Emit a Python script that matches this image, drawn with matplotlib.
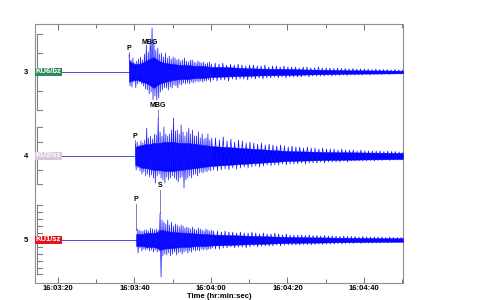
import matplotlib
matplotlib.use("Agg")
import matplotlib.pyplot as plt
import matplotlib.transforms as mtransforms
from matplotlib.patches import Rectangle
import numpy as np

plt.rcParams['font.family'] = ['Liberation Sans', 'DejaVu Sans']

# time in seconds after 16:03:00, amplitudes in display units (trace spacing = 84)
stations = ['KU6/bz', 'KU2/sz', 'KU1/sz']
trace_ids = [3, 4, 5]
station_colors = ['#2e8b5a', '#d9c6dc', '#e3151c']

# phase picks (seconds)
picks = [
    [('P', 38.6), ('MBG', 44.1)],
    [('P', 40.2), ('MBG', 46.2)],
    [('P', 40.4), ('S', 46.7)],
]

# smooth core of each record: time, upper, lower
env_t = [
    [38.6, 39, 40, 41, 42, 43, 44, 45, 46, 47, 48, 50, 52, 54, 56, 58, 60, 64, 68, 72, 76, 80, 85, 90, 95, 100, 105, 110.2],
    [40.2, 41, 42, 43, 44, 45, 46, 48, 50, 52, 54, 56, 58, 60, 64, 68, 72, 76, 80, 85, 90, 95, 100, 105, 110.2],
    [40.4, 41, 42, 43, 44, 45, 46, 46.7, 47.5, 48, 50, 52, 54, 56, 58, 60, 64, 68, 72, 76, 80, 85, 90, 95, 100, 105, 110.2],
]
env_up = [
    [12, 10, 8, 8, 9, 11, 13, 15, 12, 10, 9, 8, 7, 7, 6, 6, 5, 5, 4, 3.5, 3.2, 3, 2.5, 2.2, 1.8, 1.6, 1.5, 1.3],
    [9, 10, 11, 12, 12, 13, 13, 14, 14, 13, 13, 12, 11, 10, 9, 8, 7, 6, 5, 4.5, 4, 3.8, 3.5, 3.3, 3],
    [6, 6, 6, 7, 7, 7, 8, 10, 10, 9, 8, 7.5, 7, 6.5, 6, 5.5, 5, 4.5, 4, 3.5, 3, 2.7, 2.5, 2.2, 2, 1.8, 1.8],
]
env_dn = [
    [10, 9, 8, 8, 10, 11, 13, 16, 13, 11, 10, 8, 7, 7, 6, 6, 5, 4.5, 4, 3.5, 3.2, 3, 2.5, 2.2, 1.8, 1.6, 1.5, 1.3],
    [9, 10, 12, 12, 13, 14, 14, 15, 15, 14, 13, 12, 11, 10, 9, 8, 7, 6, 5, 4.5, 4, 3.8, 3.5, 3.3, 3],
    [6, 6, 6, 7, 7, 7, 8, 10, 9, 8.5, 8, 7, 7, 6, 6, 5.5, 5, 4.5, 4, 3.5, 3, 2.7, 2.5, 2.2, 2, 1.8, 1.8],
]

# peak readings: every 0.5 s for the first 20 s after the start, then every 1 s
peak_start = [38.6, 40.2, 40.7]
n_fast = [44, 41, 41]
peak_up = [
    [17, 12, 14, 9, 11, 13, 15, 12, 18, 27, 20, 30, 44, 32, 22, 24, 18, 19, 15, 19,
     14, 16, 13, 15, 14, 12, 13, 11, 12, 14, 11, 10, 12, 12, 10, 9, 11, 10, 9, 10,
     8, 9, 10, 8,
     9, 8, 9, 7, 8, 7, 8, 7, 6, 7, 7, 6, 6, 7, 5, 6, 6, 5, 6, 5,
     5, 5, 4, 5, 5, 4, 4, 5, 4, 4, 4, 3.5, 4, 3.5, 3.5, 3, 3.5, 3, 3, 3,
     3, 2.5, 3, 2.5, 2.5, 2.5, 2, 2.5, 2, 2],
    [12, 14, 11, 15, 13, 16, 28, 18, 20, 17, 22, 21, 38, 24, 20, 29, 22, 20, 22, 26,
     38, 25, 26, 22, 31, 24, 20, 24, 28, 22, 26, 20, 20, 24, 18, 22, 17, 18, 22, 16,
     18,
     18, 16, 19, 15, 17, 14, 16, 15, 13, 14, 13, 12, 13, 11, 12, 11, 10, 11, 10, 9,
     10, 9, 9, 8, 9, 8, 8, 7, 8, 7, 7, 7, 6, 7, 6, 6, 6, 5, 6, 5,
     5, 5, 5, 5, 4.5, 5, 4.5, 4.5, 4, 4],
    [11, 10, 9, 9, 10, 10, 9, 12, 11, 10, 11, 10, 27, 20, 18, 16, 20, 15, 18, 14,
     16, 15, 13, 15, 14, 12, 13, 12, 11, 13, 11, 10, 12, 11, 10, 9, 11, 10, 9, 10,
     9,
     9, 8, 9, 8, 8, 7, 8, 7, 7, 8, 7, 6, 7, 6, 6, 7, 6, 5, 6, 5,
     5, 5, 5, 4.5, 5, 4.5, 4.5, 4, 4.5, 4, 4, 4, 3.5, 4, 3.5, 3.5, 3.5, 3, 3.5, 3,
     3, 3, 3, 3, 2.5, 3, 2.5, 2.5, 2.5, 2.5],
]
peak_dn = [
    [14, 15, 10, 16, 12, 10, 12, 14, 17, 18, 22, 20, 28, 24, 28, 26, 20, 18, 16, 16,
     18, 15, 16, 13, 14, 16, 12, 13, 11, 12, 11, 12, 10, 11, 10, 9, 10, 9, 10, 9,
     9, 8, 10, 8,
     9, 8, 8, 9, 7, 8, 7, 7, 8, 6, 7, 6, 7, 6, 6, 5, 6, 5, 6, 5,
     5, 5, 5, 4, 5, 4, 4, 4, 4, 3.5, 4, 3.5, 3.5, 3, 3.5, 3, 3, 3, 3, 2.5,
     3, 2.5, 2.5, 2.5, 2, 2.5, 2, 2, 2, 2],
    [14, 12, 15, 18, 16, 20, 18, 21, 19, 22, 27, 20, 18, 22, 24, 27, 21, 24, 22, 20,
     22, 24, 26, 22, 21, 32, 24, 22, 20, 22, 19, 18, 20, 17, 16, 17, 15, 16, 14, 15,
     14,
     15, 14, 13, 14, 12, 13, 12, 11, 12, 11, 10, 11, 10, 9, 10, 9, 9, 8, 9, 8,
     8, 8, 7, 8, 7, 7, 7, 6, 7, 6, 6, 6, 6, 5, 6, 5, 5, 5, 5, 5,
     4.5, 5, 4.5, 4.5, 4, 4.5, 4, 4, 4, 4],
    [13, 8, 11, 9, 10, 9, 11, 10, 12, 10, 12, 11, 37, 16, 14, 15, 13, 16, 14, 12,
     15, 13, 12, 14, 12, 11, 13, 11, 12, 10, 11, 10, 11, 9, 10, 9, 10, 9, 9, 8,
     9,
     9, 8, 8, 7, 8, 7, 7, 8, 7, 6, 7, 6, 6, 6, 6, 5, 6, 5, 5, 5,
     5, 5, 4.5, 4.5, 5, 4.5, 4, 4.5, 4, 4, 4, 3.5, 4, 3.5, 3.5, 3.5, 3, 3.5, 3, 3,
     3, 3, 3, 2.5, 3, 2.5, 2.5, 2.5, 2.5, 2.5],
]

# amplitude scale bars beside each trace: half height, number of ticks
scale_half = [38, 28.5, 34.5]
scale_nticks = [5, 5, 11]

major_ticks = [20, 40, 60, 80, 100]
major_labels = ['16:03:20', '16:03:40', '16:04:00', '16:04:20', '16:04:40']
minor_ticks = [30, 50, 70, 90, 110]

SP = 84.0
blue = '#0000ff'

# where the pick labels sit (px above trace) and how far their marks reach
pick_label_off = [[23, 29], [19, 50], [40, 54]]
pick_mark = [[(20, 15), (26, 22)], [(16, 10), (46, 38)], [(36, 10), (50, 27)]]

fig = plt.figure(figsize=(4.8, 3.0), dpi=100)
ax = fig.add_axes([35 / 480, 1 - 283 / 300, 368 / 480, 259 / 300])
ax.set_xlim(14.0, 110.2)
ax.set_ylim(5.512, 2.4286)

trans = mtransforms.blended_transform_factory(ax.transAxes, ax.transData)

for i, tid in enumerate(trace_ids):
    c = tid
    p_time = picks[i][0][1]
    # quiet part before the first arrival
    ax.plot([14.0, p_time], [c, c], color='#3030d0', lw=0.6, zorder=2)
    up = [c - v / SP for v in env_up[i]]
    dn = [c + v / SP for v in env_dn[i]]
    ax.fill_between(env_t[i], up, dn, color=blue, lw=0.3, zorder=3)

    nf = n_fast[i]
    tt = np.concatenate([peak_start[i] + 0.5 * np.arange(nf),
                         peak_start[i] + 0.5 * (nf - 1) + 1.0 + np.arange(len(peak_up[i]) - nf)])
    step = np.diff(np.append(tt, tt[-1] + 1.0))
    # draw peaks as a swinging line: up at each reading, down half a step later
    xs, ys = [], []
    for t0, dt, a, b in zip(tt, step, peak_up[i], peak_dn[i]):
        xs += [t0, t0 + dt / 2]
        ys += [c - a / SP, c + b / SP]
    ax.plot(xs, ys, color='#1010ff', lw=0.5, zorder=3)

    # scale bracket
    h = scale_half[i] / SP
    ax.plot([0.0054, 0.0054], [c - h, c + h], color='#808080', lw=0.8, transform=trans, clip_on=False)
    n = scale_nticks[i]
    for k in range(n):
        yy = c - h + 2 * h * k / (n - 1)
        ax.plot([0.0054, 0.018], [yy, yy], color='#808080', lw=0.8, transform=trans, clip_on=False)

    # station label box
    ax.add_patch(Rectangle((0.0, c - 4.2 / SP), 0.074, 8.4 / SP, transform=trans,
                           fc=station_colors[i], ec='none', zorder=5, clip_on=False))
    ax.text(0.037, c, stations[i], transform=trans, ha='center', va='center',
            color='white', fontsize=5.5, fontweight='bold', zorder=6)

    # phase picks
    for k, (name, tp) in enumerate(picks[i]):
        ly = c - pick_label_off[i][k] / SP
        ax.text(tp, ly, name, ha='center', va='center', fontsize=5,
                fontweight='bold', color='black', zorder=6)
        m0, m1 = pick_mark[i][k]
        ax.plot([tp, tp], [c - m0 / SP, c - m1 / SP], color='#6a6a9a', lw=0.6, zorder=2)

ax.set_xticks(major_ticks)
ax.set_xticklabels(major_labels)
ax.set_xticks(minor_ticks, minor=True)
ax.set_yticks(trace_ids)
ax.set_yticklabels([str(t) for t in trace_ids])
ax.tick_params(axis='x', which='major', direction='in', length=4, width=0.7, color='#707070',
               labelsize=5.5, pad=1.5, top=True)
ax.tick_params(axis='x', which='minor', direction='in', length=3, width=0.7, color='#707070', top=True)
ax.tick_params(axis='y', length=0, labelsize=5.5, pad=5)
for lab in ax.get_xticklabels() + ax.get_yticklabels():
    lab.set_fontweight('bold')
for s in ax.spines.values():
    s.set_color('#909090')
    s.set_linewidth(0.8)
ax.set_xlabel('Time (hr:min:sec)', fontsize=5.5, fontweight='bold', labelpad=0.5)

fig.savefig('out.png', dpi=100)
